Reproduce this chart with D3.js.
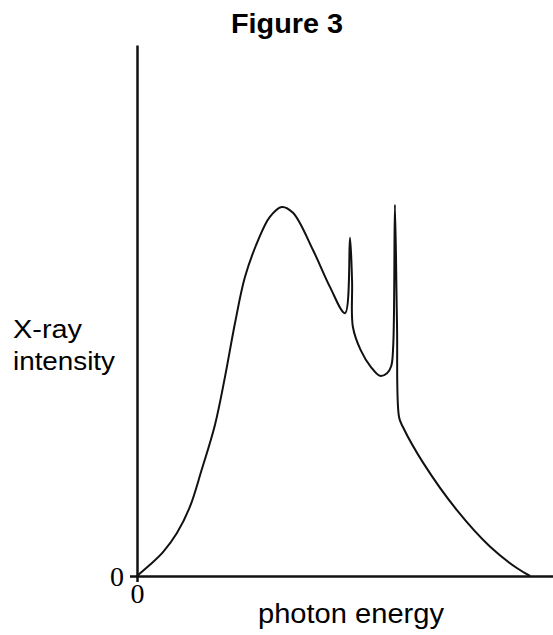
<!DOCTYPE html>
<html>
<head>
  <meta charset="UTF-8">
  <title>Figure 3</title>
  <style>
    body {
      margin: 0;
      background: #fff;
      overflow: hidden;
    }
    .label {
      font-family: Arial, "Liberation Sans", sans-serif;
      fill: #000;
    }
    .axis text {
      font-family: "Times New Roman", "Liberation Serif", serif;
      font-size: 28px;
      fill: #000;
    }
    .axis path, .axis line {
      stroke: #111;
      stroke-width: 2.5px;
    }
    .curve {
      fill: none;
      stroke: #111;
      stroke-width: 2px;
    }
  </style>
</head>
<body>

<svg id="chart"></svg>

<script src="https://d3js.org/d3.v7.min.js"></script>
<script>
const width = 553;
const height = 635;
const margin = { top: 45, right: 0, bottom: 59, left: 137 };

// photon energy (arbitrary units) and X-ray intensity
const energy = [0, 3.1, 6.25, 9.6, 12.7, 15.55, 18.75, 21.15, 23.55, 25.95, 29.15, 31.9, 34.8,
  37.5, 42.3, 46.4, 50.0, 51.2, 51.7, 51.9, 53.8, 56.2, 58.4, 60.1, 61.1, 61.6, 62.0,
  62.5, 63.0, 63.9, 68.8, 76.9, 84.9, 91.3, 94.5];
const intensity = [0, 2.1, 4.5, 8.1, 13.0, 20.0, 28.5, 37.5, 47.6, 56.3, 63.3, 67.6, 69.5,
  68.4, 61.4, 54.4, 49.5, 63.7, 55.5, 46.9, 42.5, 39.4, 37.7, 38.2, 39.5, 43.5, 69.9,
  47.6, 29.9, 28.1, 21.3, 12.4, 5.5, 1.5, 0];
const xTicks = [0];
const yTicks = [0];

const svg = d3.select("#chart")
  .attr("width", width)
  .attr("height", height);

const x = d3.scaleLinear().domain([0, 100]).range([margin.left, width - margin.right]);
const y = d3.scaleLinear().domain([0, 100]).range([height - margin.bottom, margin.top]);

// axes
const xAxis = svg.append("g")
  .attr("class", "axis")
  .attr("transform", `translate(0,${y(0)})`)
  .call(d3.axisBottom(x).tickValues(xTicks).tickSize(6).tickSizeOuter(0).tickFormat(d3.format("d")));
xAxis.selectAll("text").attr("dy", "0.62em").attr("y", 10);

const yAxis = svg.append("g")
  .attr("class", "axis")
  .attr("transform", `translate(${x(0)},0)`)
  .call(d3.axisLeft(y).tickValues(yTicks).tickSize(7).tickSizeOuter(0).tickFormat(d3.format("d")));
yAxis.selectAll("text").attr("x", -13).attr("dy", "0.34em");

// curve
const pts = energy.map((e, i) => [e, intensity[i]]);
const line = d3.line()
  .x(d => x(d[0]))
  .y(d => y(d[1]))
  .curve(d3.curveCatmullRom.alpha(0.5));

svg.append("path")
  .datum(pts)
  .attr("class", "curve")
  .attr("d", line);

// text (the original figure is slightly stretched sideways, so fix the widths)
svg.append("text")
  .attr("class", "label")
  .attr("x", 231)
  .attr("y", 33)
  .attr("textLength", 112)
  .attr("lengthAdjust", "spacingAndGlyphs")
  .style("font-size", "27px")
  .style("font-weight", "bold")
  .text("Figure 3");

const yl = svg.append("text")
  .attr("class", "label")
  .style("font-size", "25px");
yl.append("tspan").attr("x", 13).attr("y", 338)
  .attr("textLength", 69).attr("lengthAdjust", "spacingAndGlyphs").text("X-ray");
yl.append("tspan").attr("x", 13).attr("y", 370)
  .attr("textLength", 102).attr("lengthAdjust", "spacingAndGlyphs").text("intensity");

svg.append("text")
  .attr("class", "label")
  .attr("x", 258)
  .attr("y", 623)
  .attr("textLength", 186)
  .attr("lengthAdjust", "spacingAndGlyphs")
  .style("font-size", "27px")
  .text("photon energy");
</script>

</body>
</html>
